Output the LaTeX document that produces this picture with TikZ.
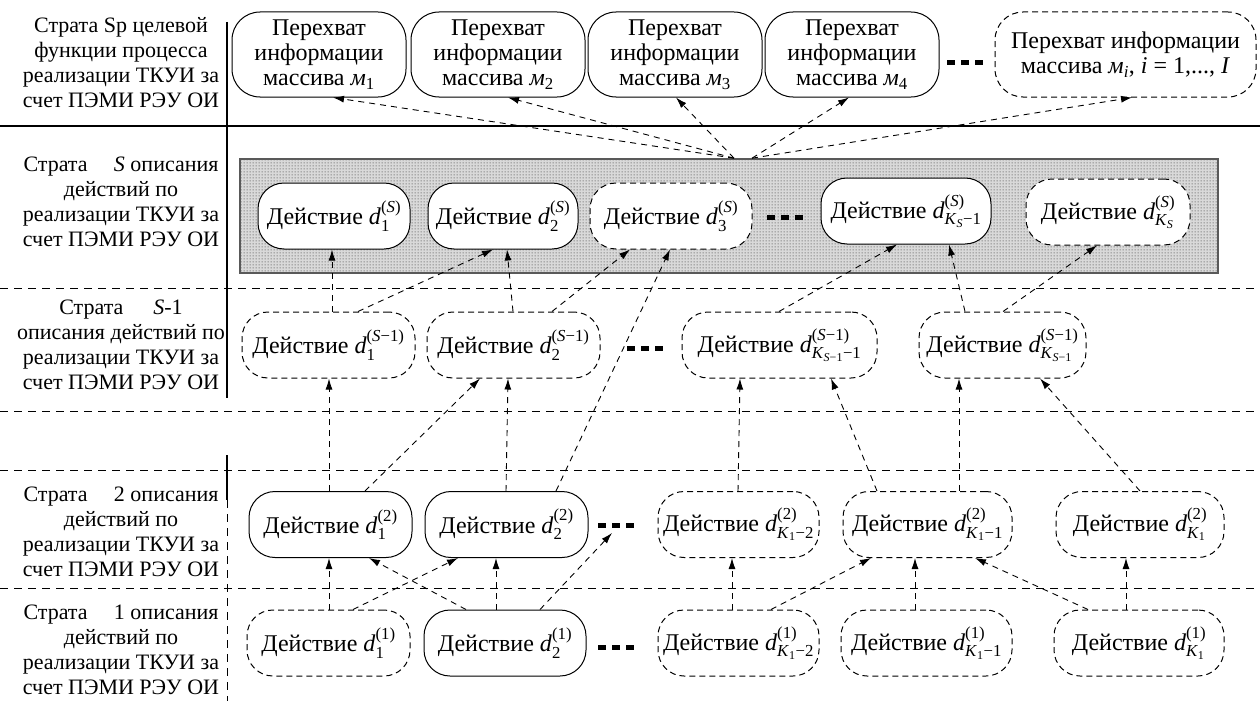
\documentclass[tikz,border=0pt]{standalone}
\usepackage{fontspec}
\setmainfont{Liberation Serif}
\usepackage{amsmath}
\usetikzlibrary{arrows.meta,patterns.meta}
\tikzdeclarepattern{
  name=sdots,
  type=uncolored,
  bounding box={(0pt,0pt) and (3pt,3pt)},
  tile size={(3pt,3pt)},
  code={\fill (1.5pt,1.5pt) circle (0.75pt);}
}
\newcommand\rmT[1]{\text{#1}}
\newcommand\itT[1]{\text{\textit{#1}}}
\newcommand\act[2]{Действие \itT{d}$_{#1}^{#2}$}
\newcommand\supS{\rmT{(}\itT{S}\rmT{)}}
\newcommand\supSm{\rmT{(}\itT{S}\rmT{−1)}}
\newcommand\supN[1]{\rmT{(#1)}}
\begin{document}
\begin{tikzpicture}[x=1pt,y=-1pt,
  every node/.style={font=\fontsize{22}{25}\selectfont, inner sep=0pt},
  lbl/.style={align=center},
  base/.style={rectangle, rounded corners=26pt, fill=white, align=center, line width=1pt, minimum height=66pt,
               font=\fontsize{24}{25}\selectfont},
  solidbox/.style={base, draw},
  dashbox/.style={base, draw, dash pattern=on 6pt off 4pt},
  topbox/.style={base, draw, minimum height=85pt, minimum width=174pt, rounded corners=28pt},
  conn/.style={line width=0.9pt, dash pattern=on 6pt off 5pt, -{Latex[length=11pt,width=7pt]}},
  divider/.style={line width=1pt, dash pattern=on 8pt off 6pt},
  dotbar/.style={line width=5pt, dash pattern=on 8pt off 6pt}
]
\useasboundingbox (0,0) rectangle (1260,701);

% shaded stratum S
\node[draw=gray!70!black, line width=1.6pt, fill=gray!30,
      postaction={pattern=sdots, pattern color=black!65},
      minimum width=978pt, minimum height=114pt] (sbox) at (729,216) {};

% separators
\draw[line width=1.2pt] (0,126) -- (1260,126);
\foreach \yy in {288,411,470,588} \draw[divider] (0,\yy) -- (1260,\yy);
\draw[line width=1.2pt] (227,22) -- (227,398);
\draw[line width=1.2pt] (227,455) -- (227,500);
\draw[divider] (227,500) -- (227,701);

% left labels
\node[lbl] (lab0) at (121,63) {Страта Sp целевой\\функции процесса\\реализации ТКУИ за\\счет ПЭМИ РЭУ ОИ};
\node[lbl] (labS) at (121,202) {\makebox[195pt]{Страта\hfill\textit{S} описания}\\действий по\\реализации ТКУИ за\\счет ПЭМИ РЭУ ОИ};
\node[lbl] (labS1) at (121,345) {Страта\hspace{30pt}\textit{S}-1\\описания действий по\\реализации ТКУИ за\\счет ПЭМИ РЭУ ОИ};
\node[lbl] (lab2) at (121,532) {\makebox[195pt]{Страта\hfill 2 описания}\\действий по\\реализации ТКУИ за\\счет ПЭМИ РЭУ ОИ};
\node[lbl] (lab1) at (121,650) {\makebox[195pt]{Страта\hfill 1 описания}\\действий по\\реализации ТКУИ за\\счет ПЭМИ РЭУ ОИ};

% top row
\node[topbox] (m1) at (319,54.5) {Перехват\\информации\\массива \textit{м}$_{\rmT{1}}$};
\node[topbox] (m2) at (498,54.5) {Перехват\\информации\\массива \textit{м}$_{\rmT{2}}$};
\node[topbox] (m3) at (675,54.5) {Перехват\\информации\\массива \textit{м}$_{\rmT{3}}$};
\node[topbox] (m4) at (852,54.5) {Перехват\\информации\\массива \textit{м}$_{\rmT{4}}$};
\node[topbox, dash pattern=on 6pt off 4pt, minimum width=261pt] (mi) at (1125.5,54.5) {Перехват информации\\массива \textit{м}$_{\itT{i}}$, \textit{i} = 1,..., \textit{I}};
\draw[dotbar] (947,63) -- ++(36,0);

% stratum S
\node[solidbox, minimum width=152pt] (dS1) at (334,216) {\act{\rmT{1}}{\supS}};
\node[solidbox, minimum width=150pt] (dS2) at (503,216) {\act{\rmT{2}}{\supS}};
\node[dashbox, minimum width=162pt] (dS3) at (671,216) {\act{\rmT{3}}{\supS}};
\node[solidbox, minimum width=170pt] (dSK1) at (906,211) {\act{\itT{K}_{\itT{S}}\rmT{−1}}{\supS}};
\node[dashbox, minimum width=164pt] (dSK) at (1108,212) {\act{\itT{K}_{\itT{S}}}{\supS}};
\draw[dotbar] (767,217) -- ++(36,0);

% stratum S-1
\node[dashbox, minimum width=173pt] (dT1) at (328.5,345) {\act{\rmT{1}}{\supSm}};
\node[dashbox, minimum width=173pt] (dT2) at (513.5,345) {\act{\rmT{2}}{\supSm}};
\node[dashbox, minimum width=195pt] (dTK1) at (779.5,345) {\act{\itT{K}_{\itT{S}\rmT{−1}}\rmT{−1}}{\supSm}};
\node[dashbox, minimum width=167pt] (dTK) at (1002.5,345) {\act{\itT{K}_{\itT{S}\rmT{−1}}}{\supSm}};
\draw[dotbar] (627,348) -- ++(36,0);

% stratum 2
\node[solidbox, minimum width=163pt] (dB1) at (330.5,524.5) {\act{\rmT{1}}{\supN{2}}};
\node[solidbox, minimum width=163pt] (dB2) at (506.5,524.5) {\act{\rmT{2}}{\supN{2}}};
\node[dashbox, minimum width=161pt] (dBK2) at (738.5,524.5) {\act{\itT{K}_{\rmT{1}}\rmT{−2}}{\supN{2}}};
\node[dashbox, minimum width=169pt] (dBK1) at (927.5,524.5) {\act{\itT{K}_{\rmT{1}}\rmT{−1}}{\supN{2}}};
\node[dashbox, minimum width=168pt] (dBK) at (1140,524.5) {\act{\itT{K}_{\rmT{1}}}{\supN{2}}};
\draw[dotbar] (598,525) -- ++(36,0);
\coordinate (dotsB) at (612,533);

% stratum 1
\node[dashbox, minimum width=163pt] (dA1) at (328.5,643) {\act{\rmT{1}}{\supN{1}}};
\node[solidbox, minimum width=162pt] (dA2) at (505,643) {\act{\rmT{2}}{\supN{1}}};
\node[dashbox, minimum width=161pt] (dAK2) at (738.5,643) {\act{\itT{K}_{\rmT{1}}\rmT{−2}}{\supN{1}}};
\node[dashbox, minimum width=171pt] (dAK1) at (926.5,643) {\act{\itT{K}_{\rmT{1}}\rmT{−1}}{\supN{1}}};
\node[dashbox, minimum width=170pt] (dAK) at (1139,643) {\act{\itT{K}_{\rmT{1}}}{\supN{1}}};
\draw[dotbar] (598,647) -- ++(36,0);

% connectors: stratum S -> Sp
\draw[conn] ([xshift=5pt]sbox.north) -- ([xshift=14pt]m1.south);
\draw[conn] ([xshift=5pt]sbox.north) -- ([xshift=10pt]m2.south);
\draw[conn] ([xshift=5pt]sbox.north) -- ([xshift=1pt]m3.south);
\draw[conn] ([xshift=23pt]sbox.north) -- ([xshift=-3pt]m4.south);
\draw[conn] ([xshift=23pt]sbox.north) -- ([xshift=6.5pt]mi.south);

% S-1 -> S
\draw[conn] ([xshift=3.5pt]dT1.north) -- ([xshift=-2pt]dS1.south);
\draw[conn] ([xshift=29.5pt]dT1.north) -- ([xshift=-10pt]dS2.south);
\draw[conn] ([xshift=-0.5pt]dT2.north) -- ([xshift=4pt]dS2.south);
\draw[conn] ([xshift=38.5pt]dT2.north) -- ([xshift=-41pt]dS3.south);
\draw[conn] ([xshift=-0.5pt]dTK1.north) -- ([xshift=-9pt]dSK1.south);
\draw[conn] ([xshift=-37.5pt]dTK.north) -- ([xshift=43pt]dSK1.south);
\draw[conn] ([xshift=0.5pt]dTK.north) -- ([xshift=-11pt]dSK.south);

% 2 -> S-1 / S
\draw[conn] ([xshift=-1.5pt]dB1.north) -- ([xshift=0.5pt]dT1.south);
\draw[conn] ([xshift=34.5pt]dB1.north) -- ([xshift=-33.5pt]dT2.south);
\draw[conn] ([xshift=-0.5pt]dB2.north) -- ([xshift=-5.5pt]dT2.south);
\draw[conn] ([xshift=49.5pt]dB2.north) -- ([xshift=-1pt]dS3.south);
\draw[conn] ([xshift=-0.5pt]dBK2.north) -- ([xshift=-39.5pt]dTK1.south);
\draw[conn] ([xshift=-50.5pt]dBK1.north) -- ([xshift=51.5pt]dTK1.south);
\draw[conn] ([xshift=31.5pt]dBK1.north) -- ([xshift=-43.5pt]dTK.south);
\draw[conn] (dBK.north) -- ([xshift=37.5pt]dTK.south);

% 1 -> 2
\draw[conn] ([xshift=0.5pt]dA1.north) -- ([xshift=-1.5pt]dB1.south);
\draw[conn] ([xshift=24.5pt]dA1.north) -- ([xshift=-48.5pt]dB2.south);
\draw[conn] ([xshift=-39pt]dA2.north) -- ([xshift=38.5pt]dB1.south);
\draw[conn] ([xshift=-9pt]dA2.north) -- ([xshift=-10.5pt]dB2.south);
\draw[conn] ([xshift=35pt]dA2.north) -- (dotsB);
\draw[conn] ([xshift=-6.5pt]dAK2.north) -- ([xshift=-6.5pt]dBK2.south);
\draw[conn] ([xshift=32.5pt]dAK2.north) -- ([xshift=-56.5pt]dBK1.south);
\draw[conn] ([xshift=-11.5pt]dAK1.north) -- ([xshift=-12.5pt]dBK1.south);
\draw[conn] ([xshift=-51pt]dAK.north) -- ([xshift=47.5pt]dBK1.south);
\draw[conn] ([xshift=-13pt]dAK.north) -- ([xshift=-14pt]dBK.south);
\end{tikzpicture}
\end{document}
